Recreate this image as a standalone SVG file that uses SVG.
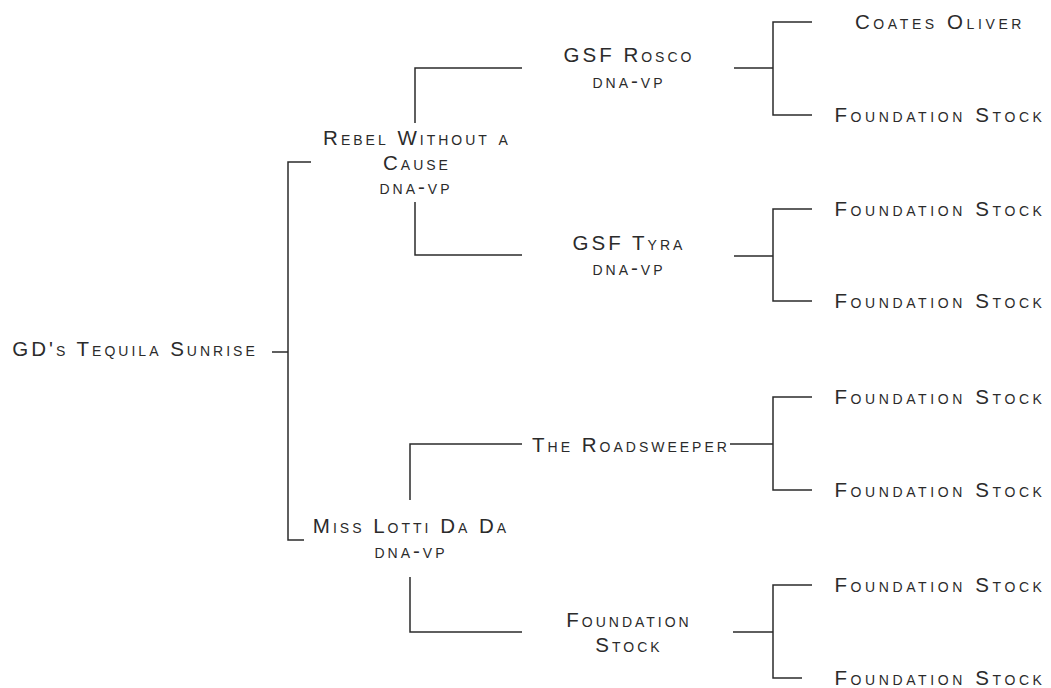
<svg xmlns="http://www.w3.org/2000/svg" width="1051" height="688" viewBox="0 0 1051 688">
<style>
text{font-family:"Liberation Sans",Arial,sans-serif;font-size:20.5px;font-variant:small-caps;letter-spacing:3px;fill:#2b2b2b;text-anchor:middle}
.leaf text{letter-spacing:3.6px}
.c path{fill:none;stroke:#2b2b2b;stroke-width:1.5}
</style>
<rect width="1051" height="688" fill="#fff"/>
<g class="c" id="connectors">
<path d="M272 352H288M311 162H288V540H304"/>
<path d="M522 68H415V123M522 255H415V202"/>
<path d="M734 68H773M812 22H773V115H812"/>
<path d="M734 256H773M812 209H773V301H812"/>
<path d="M522 444H410V500M730 444H773M812 397H773V490H812"/>
<path d="M522 632H410V577"/>
<path d="M733 632H773M812 585H773V678H802"/>
</g>
<g id="n-root"><text x="135" y="356">GD's Tequila Sunrise</text></g>
<g id="n-rebel"><text x="417" y="145">Rebel Without a</text><text x="417" y="170">Cause</text><text x="416" y="194">dna-vp</text></g>
<g id="n-miss"><text x="411" y="533">Miss Lotti Da Da</text><text x="411" y="558">dna-vp</text></g>
<g id="n-rosco"><text x="629" y="62">GSF Rosco</text><text x="629" y="88">dna-vp</text></g>
<g id="n-tyra"><text x="629" y="250">GSF Tyra</text><text x="629" y="275">dna-vp</text></g>
<g id="n-road"><text x="631" y="452">The Roadsweeper</text></g>
<g id="n-found"><text x="629" y="627">Foundation</text><text x="629" y="652">Stock</text></g>
<g id="l1" class="leaf"><text x="940" y="29">Coates Oliver</text></g>
<g id="l2" class="leaf"><text x="940" y="122">Foundation Stock</text></g>
<g id="l3" class="leaf"><text x="940" y="216">Foundation Stock</text></g>
<g id="l4" class="leaf"><text x="940" y="308">Foundation Stock</text></g>
<g id="l5" class="leaf"><text x="940" y="404">Foundation Stock</text></g>
<g id="l6" class="leaf"><text x="940" y="497">Foundation Stock</text></g>
<g id="l7" class="leaf"><text x="940" y="592">Foundation Stock</text></g>
<g id="l8" class="leaf"><text x="940" y="685">Foundation Stock</text></g>
</svg>
